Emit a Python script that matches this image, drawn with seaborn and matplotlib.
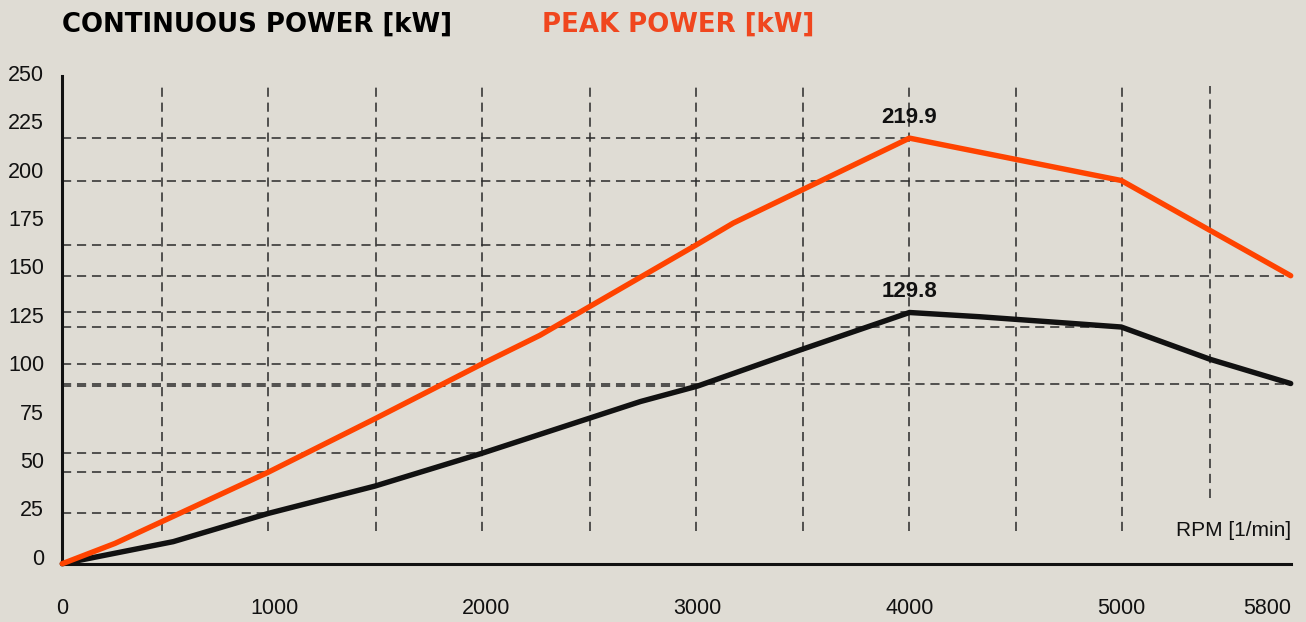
import numpy as np
import pandas as pd
import matplotlib.pyplot as plt
import matplotlib.transforms as mtransforms
import seaborn as sns

# curve points (rpm, kW)
peak_rpm = [0, 249, 973, 1478, 1981, 2255, 2990, 3168, 4000, 5000, 5800]
peak_kw = [0, 10.5, 47.3, 75.0, 103.2, 118.0, 164.5, 176.0, 219.9, 198.0, 148.8]
cont_rpm = [0, 524, 973, 1476, 1980, 2730, 3000, 3483, 4000, 4333, 5000, 5420, 5800]
cont_kw = [0, 11.4, 26.0, 40.1, 57.0, 83.8, 91.8, 110.4, 129.8, 127.6, 122.3, 105.6, 93.1]

# points that get a dashed drop line back to the y axis
peak_drop_rpm = [973, 1981, 2990, 4000, 5000, 5800]
cont_drop_rpm = [973, 1980, 3000, 4000, 5000, 5800]

# vertical dashed guides
guide_rpm = [470, 970, 1480, 1980, 2490, 2990, 3495, 4000, 4505, 5005, 5420]

x_ticks = [0, 1000, 2000, 3000, 4000, 5000, 5800]
y_ticks = list(range(0, 251, 25))

BG = "#dfdcd4"
ORANGE = "#ff4300"
ORANGE_TXT = "#f0461e"
BLACK = "#111111"
GRID = "#2a2a2a"

sns.set_theme(style="white", rc={"figure.facecolor": BG, "axes.facecolor": BG})
plt.rcParams["font.family"] = ["Liberation Sans", "DejaVu Sans"]

df = pd.concat([
    pd.DataFrame({"rpm": cont_rpm, "kw": cont_kw, "series": "continuous"}),
    pd.DataFrame({"rpm": peak_rpm, "kw": peak_kw, "series": "peak"}),
])

fig = plt.figure(figsize=(13.06, 6.22), dpi=100)
ax = fig.add_axes([62.3 / 1306, 58.3 / 622, 1228.4 / 1306, 487.7 / 622])

# guides first so the curves sit on top
ax.vlines(guide_rpm, [17] * 10 + [34], 247, colors=GRID, lw=1.1,
          linestyles=(0, (6, 3.8)), zorder=1)
for rpms, xs, ys in [(peak_drop_rpm, peak_rpm, peak_kw), (cont_drop_rpm, cont_rpm, cont_kw)]:
    vals = np.interp(rpms, xs, ys)
    ax.hlines(vals, 0, rpms, colors=GRID, lw=1.1, linestyles=(0, (6, 3.8)), zorder=1)

sns.lineplot(data=df, x="rpm", y="kw", hue="series", palette={"continuous": BLACK, "peak": ORANGE},
             linewidth=3.9, legend=False, ax=ax, zorder=3)
for line in ax.get_lines():
    line.set_clip_on(False)
    line.set_solid_joinstyle("miter")

for xs, ys in [(peak_rpm, peak_kw), (cont_rpm, cont_kw)]:
    i = int(np.argmax(ys))
    ax.annotate(f"{ys[i]:.1f}", (xs[i], ys[i]), xytext=(0, 15), textcoords="offset points",
                ha="center", va="center", fontsize=16, fontweight="bold", color=BLACK)

ax.set_xlim(0, 5800)
ax.set_ylim(0, 252)
ax.set_xticks(x_ticks)
ax.set_yticks(y_ticks)
ax.set_xlabel("")
ax.set_ylabel("")
ax.tick_params(axis="both", length=0, labelsize=15.5, colors=BLACK)
ax.tick_params(axis="y", pad=13)
ax.tick_params(axis="x", pad=25)
ax.get_xticklabels()[-1].set_ha("right")
shift = mtransforms.ScaledTranslation(0, 0.07, fig.dpi_scale_trans)
for lab in ax.get_yticklabels():
    lab.set_transform(lab.get_transform() + shift)

for side in ["top", "right"]:
    ax.spines[side].set_visible(False)
for side in ["left", "bottom"]:
    ax.spines[side].set_linewidth(2.2)
    ax.spines[side].set_color(BLACK)

ax.text(5800, 17, "RPM [1/min]", ha="right", va="center", fontsize=15, color=BLACK)

fig.text(62 / 1306, 1 - 31.5 / 622, "CONTINUOUS POWER [kW]", ha="left", va="baseline",
         fontsize=18.7, fontweight="bold", family=["DejaVu Sans"], color="black")
fig.text(542.5 / 1306, 1 - 31.5 / 622, "PEAK POWER [kW]", ha="left", va="baseline",
         fontsize=18.7, fontweight="bold", family=["DejaVu Sans"], color=ORANGE_TXT)

fig.savefig("out.png", dpi=100, facecolor=BG)
